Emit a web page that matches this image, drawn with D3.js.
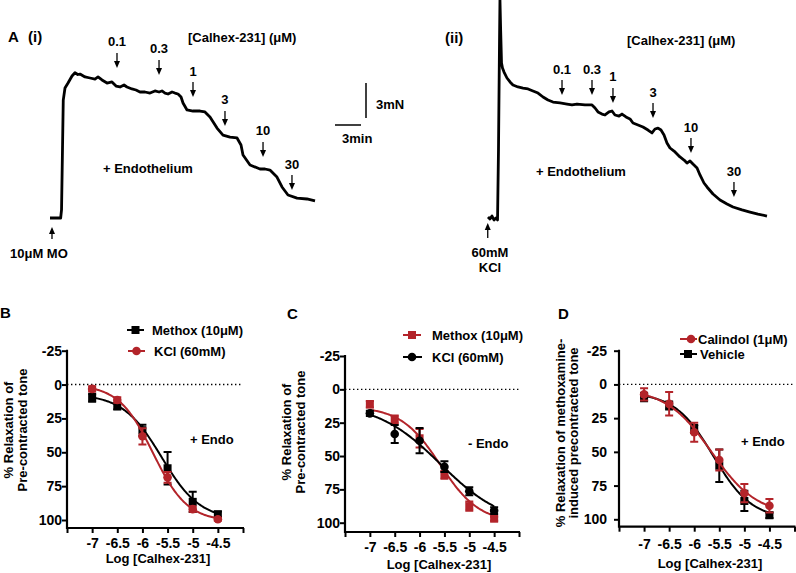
<!DOCTYPE html>
<html><head><meta charset="utf-8">
<script src="https://cdn.jsdelivr.net/npm/d3@7"></script>
<style>
body{margin:0;background:#fff}
svg text{font-family:"Liberation Sans",Arial,Helvetica,sans-serif;font-weight:bold;fill:#000;font-size:13px}
svg .tick text{font-size:14px}
</style>
</head><body>
<svg id="c" width="796" height="573"></svg>
<script>
// ---------------- DATA ----------------
// Panel A(i): isometric tension trace, [time (min), tension (mN)]
const traceI = [[0,0],[1.23,0],[1.33,0.69],[1.44,5.83],[1.53,10.1],[1.73,11.14],[2.08,11.57],[2.54,12.17],[2.88,12.45],[3.2,12.3],[3.46,12.34],[4.04,12.09],[4.62,12.0],[5.19,11.91],[5.54,12.09],[6.0,11.83],[6.58,11.57],[7.15,11.66],[7.62,11.31],[8.08,11.23],[8.54,11.4],[8.88,11.23],[9.46,11.06],[9.92,10.97],[10.38,10.8],[10.96,10.8],[11.54,10.71],[12.11,10.89],[12.58,10.8],[12.92,10.89],[13.27,10.71],[13.62,10.63],[14.08,10.8],[14.42,10.71],[14.77,10.63],[15.12,10.37],[15.35,9.86],[15.81,9.26],[16.5,9.17],[17.31,9.17],[17.88,9.09],[18.46,8.66],[19.27,7.71],[19.96,7.11],[20.77,6.94],[21.58,6.86],[22.04,6.26],[22.27,5.4],[23.08,4.54],[24.23,4.2],[24.81,4.2],[25.38,4.11],[26.19,3.51],[26.77,2.66],[27.46,1.97],[28.5,1.71],[29.65,1.63],[30.58,1.46]];
// Panel A(ii)
const traceII = [[0,0.09],[0.23,-0.09],[0.46,0.17],[0.69,-0.17],[0.92,0],[1.1,-0.17],[1.21,5.83],[1.33,15.26],[1.38,18.69],[1.46,16.11],[1.56,13.29],[1.67,12.86],[1.85,12.51],[2.19,12.0],[2.54,11.66],[2.88,11.4],[3.46,11.23],[4.04,11.14],[4.62,11.06],[5.19,10.89],[5.77,10.71],[6.35,10.37],[6.92,10.11],[7.5,9.94],[8.31,9.86],[9.12,9.77],[9.69,9.69],[10.27,9.77],[11.19,9.69],[12.0,9.69],[12.35,9.43],[12.69,9.09],[13.15,8.91],[13.5,8.83],[13.96,9.09],[14.31,9.17],[14.65,8.83],[15.12,8.74],[15.46,8.91],[15.92,8.66],[16.38,8.49],[16.73,8.14],[17.31,7.97],[17.88,7.8],[18.46,7.54],[18.92,7.29],[19.27,7.63],[19.62,7.71],[19.96,7.54],[20.31,7.11],[20.65,6.43],[21.0,6.0],[21.58,5.66],[22.15,5.23],[22.62,4.97],[22.96,4.71],[23.31,4.89],[23.65,4.63],[24.12,4.29],[24.46,3.69],[24.92,3.0],[25.27,2.66],[25.96,2.06],[26.77,1.54],[27.58,1.2],[28.27,0.94],[29.31,0.69],[30.23,0.51],[31.15,0.34],[32.19,0.17]];
const doseLabels = ["0.1","0.3","1","3","10","30"];
const traceIDoseTime = [7.73,12.58,16.5,20.19,24.58,27.92];
const traceIDoseTip = [12.86,12.26,10.37,7.89,5.23,2.4];
const traceIIDoseTime = [8.54,12.0,14.42,19.04,23.42,28.38];
const traceIIDoseTip = [10.54,10.54,9.86,8.57,5.57,1.8];

// Panels B-D: concentration-response (% relaxation, mean ± SEM)
const logConc = [-7,-6.5,-6,-5.5,-5,-4.5];
const xTicks = [-7.5,-7,-6.5,-6,-5.5,-5,-4.5,-4];
const yTicks = [-25,0,25,50,75,100];
const bMethoxMean = [9.7,15.9,33.7,61.8,86.6,95.8];
const bMethoxErr  = [3,2.5,4,12,7.5,2];
const bKclMean    = [3.2,11.4,38.2,68.5,92,99.5];
const bKclErr     = [2,2,6,4,2,1];
const cMethoxMean = [11.2,22.6,36.7,64,87.6,97];
const cMethoxErr  = [2.5,3,7,3,3.5,1.5];
const cKclMean    = [18,33.5,38.5,58,76.4,91];
const cKclErr     = [2,6.7,9.5,4,3,2.5];
const dCalindolMean = [7.4,14.4,35.5,56,80.6,90];
const dCalindolErr  = [4.6,8.7,7,7.8,6.8,5];
const dVehicleMean  = [9.4,15.6,33,60.3,86.4,97];
const dVehicleErr   = [3,3,3,12,7.5,2];
// sigmoidal fit parameters: [top, bottom, logEC50, Hill slope]
const bMethoxFit = [7,100,-5.62,1.13];
const bKclFit = [0,101,-5.79,1.27];
const cMethoxFit = [13,100,-5.585,1.1];
const cKclFit = [10,102,-5.58,0.68];
const dCalindolFit = [3,97,-5.656,0.956];
const dVehicleFit = [6,100,-5.62,1.13];

// ---------------- DRAW ----------------
const svg = d3.select("#c");
const RED = "#b3242a";

function txt(x, y, s, opts = {}) {
  const t = svg.append("text").attr("x", x).attr("y", y).text(s);
  if (opts.size) t.style("font-size", opts.size + "px");
  if (opts.anchor) t.attr("text-anchor", opts.anchor);
  return t;
}
function arrow(x, yTip, len, dir) { // dir 1 = down, -1 = up
  const g = svg.append("g");
  g.append("line").attr("x1", x).attr("x2", x)
    .attr("y1", yTip - dir * len).attr("y2", yTip - dir * 5)
    .attr("stroke", "#000").attr("stroke-width", 1.3);
  g.append("path").attr("d", `M${x - 3},${yTip - dir * 7}L${x + 3},${yTip - dir * 7}L${x},${yTip}Z`).attr("fill", "#000");
}

// Traces
const fScale = d3.scaleLinear().domain([0, 3]).range([218, 183]);
const tScaleI = d3.scaleLinear().domain([0, 30]).range([50, 310]);
const tScaleII = d3.scaleLinear().domain([0, 30]).range([488, 748]);

function drawTrace(data, ts, doseT, doseTip) {
  const line = d3.line().x(d => ts(d[0])).y(d => fScale(d[1]));
  svg.append("path").datum(data).attr("d", line).attr("fill", "none")
    .attr("stroke", "#000").attr("stroke-width", 2.8).attr("stroke-linejoin", "round");
  doseLabels.forEach((lab, i) => {
    const x = ts(doseT[i]), yTip = fScale(doseTip[i]);
    arrow(x, yTip, 15, 1);
    txt(x, yTip - 15 - 6.5, lab, {anchor: "middle"});
  });
}
drawTrace(traceI, tScaleI, traceIDoseTime, traceIDoseTip);
drawTrace(traceII, tScaleII, traceIIDoseTime, traceIIDoseTip);

// start arrows
arrow(tScaleI(0.23), fScale(-0.77), 12, -1);
arrow(tScaleII(-0.03), fScale(-0.43), 15, -1);

txt(8, 42, "A", {size: 15});
txt(28, 42, "(i)", {size: 15});
txt(445, 43, "(ii)", {size: 15});
txt(188, 42, "[Calhex-231] (\u03bcM)");
txt(627, 45, "[Calhex-231] (\u03bcM)");
txt(103, 172.6, "+ Endothelium");
txt(536, 175.6, "+ Endothelium");
txt(10, 258, "10\u03bcM MO");
txt(490, 257, "60mM", {anchor: "middle"});
txt(490, 272, "KCl", {anchor: "middle"});

// scale bar (3 mN, 3 min)
svg.append("line").attr("x1", 366).attr("x2", 366).attr("y1", 83)
  .attr("y2", 83 + (fScale(0) - fScale(3))).attr("stroke", "#000").attr("stroke-width", 1.5);
svg.append("line").attr("x1", 335).attr("x2", 335 + (tScaleI(3) - tScaleI(0)))
  .attr("y1", 125).attr("y2", 125).attr("stroke", "#000").attr("stroke-width", 1.5);
txt(376, 108.5, "3mN");
txt(342, 142.5, "3min");

// Concentration-response panels
function hill(p, x) { return p[0] + (p[1] - p[0]) / (1 + Math.pow(10, (p[2] - x) * p[3])); }

function drawPanel(cfg) {
  const x = d3.scaleLinear().domain([-7.5, -4]).range([cfg.x0, cfg.x1]);
  const y = d3.scaleLinear().domain([-25, 100]).range([cfg.yTop, cfg.y100]);
  const g = svg.append("g");
  g.append("line").attr("x1", x(-7.5)).attr("x2", x(-4)).attr("y1", y(0)).attr("y2", y(0))
    .attr("stroke", "#000").attr("stroke-width", 1.4).attr("stroke-dasharray", "1.4,2.6");
  const ya = g.append("g").attr("transform", `translate(${cfg.x0},0)`)
    .call(d3.axisLeft(y).tickValues(yTicks).tickSize(5).tickPadding(cfg.ypad).tickFormat(d => String(d)));
  ya.select(".domain").remove();
  ya.selectAll(".tick line").attr("stroke-width", 2);
  const xa = g.append("g").attr("transform", `translate(0,${cfg.yBot})`)
    .call(d3.axisBottom(x).tickValues(xTicks).tickSize(5).tickFormat(d => (d === -7.5 || d === -4) ? "" : String(d)));
  xa.select(".domain").remove();
  xa.selectAll(".tick line").attr("stroke-width", 2);
  xa.selectAll(".tick text").attr("dy", 0).attr("y", cfg.xTickBase - cfg.yBot);
  g.append("path").attr("d", `M${cfg.x0},${cfg.yTop - 1}V${cfg.yBot}H${cfg.x1 + 1}`)
    .attr("fill", "none").attr("stroke", "#000").attr("stroke-width", 2.2);

  cfg.series.forEach(s => {
    const sg = g.append("g");
    const xs = d3.range(-7, -4.5 + 1e-9, 0.02);
    sg.append("path").datum(xs).attr("d", d3.line().x(d => x(d)).y(d => y(hill(s.fit, d))))
      .attr("fill", "none").attr("stroke", s.color).attr("stroke-width", 2);
    logConc.forEach((c, i) => {
      const cx = x(c), m = s.mean[i], e = s.err[i];
      sg.append("path").attr("d",
        `M${cx},${y(m - e)}V${y(m + e)}M${cx - 4},${y(m - e)}H${cx + 4}M${cx - 4},${y(m + e)}H${cx + 4}`)
        .attr("stroke", s.color).attr("stroke-width", 2).attr("fill", "none");
      if (s.shape === "square")
        sg.append("rect").attr("x", cx - 4).attr("y", y(m) - 4).attr("width", 8).attr("height", 8).attr("fill", s.color);
      else
        sg.append("circle").attr("cx", cx).attr("cy", y(m)).attr("r", 4.3).attr("fill", s.color);
    });
  });
  // legend
  cfg.legend.forEach(l => {
    const s = cfg.series[l.idx];
    g.append("line").attr("x1", l.lx1).attr("x2", l.lx2).attr("y1", l.y).attr("y2", l.y)
      .attr("stroke", s.color).attr("stroke-width", 2);
    if (s.shape === "square")
      g.append("rect").attr("x", l.mx - 4).attr("y", l.y - 4).attr("width", 8).attr("height", 8).attr("fill", s.color);
    else
      g.append("circle").attr("cx", l.mx).attr("cy", l.y).attr("r", 4.3).attr("fill", s.color);
    txt(l.tx, l.y + 4.6, s.name);
  });
  txt(cfg.letter[1], cfg.letter[2], cfg.letter[0], {size: 15});
  txt(cfg.endo[1], cfg.endo[2], cfg.endo[0]);
  txt(cfg.xlab[0], cfg.xlab[1], "Log [Calhex-231]", {anchor: "middle"});
  cfg.ylab.forEach(l => {
    svg.append("text").attr("transform", `translate(${l[1]},${cfg.ylabCenter}) rotate(-90)`)
      .attr("text-anchor", "middle").text(l[0]);
  });
}

drawPanel({
  x0: 67, x1: 243, yTop: 350.7, y100: 520, yBot: 528, ypad: 0, xTickBase: 548,
  series: [
    {name: "Methox (10\u03bcM)", color: "#000", shape: "square", mean: bMethoxMean, err: bMethoxErr, fit: bMethoxFit},
    {name: "KCl (60mM)", color: RED, shape: "circle", mean: bKclMean, err: bKclErr, fit: bKclFit}
  ],
  legend: [{idx: 0, y: 330, lx1: 127, lx2: 144, mx: 135.5, tx: 152}, {idx: 1, y: 351, lx1: 128, lx2: 145, mx: 136.5, tx: 154}],
  letter: ["B", 0, 318], endo: ["+ Endo", 190, 444], xlab: [158, 563],
  ylab: [["% Relaxation of", 13], ["Pre-contracted tone", 26.5]], ylabCenter: 430
});
drawPanel({
  x0: 345, x1: 519, yTop: 356, y100: 522.7, yBot: 532, ypad: 0, xTickBase: 552,
  series: [
    {name: "Methox (10\u03bcM)", color: RED, shape: "square", mean: cMethoxMean, err: cMethoxErr, fit: cMethoxFit},
    {name: "KCl (60mM)", color: "#000", shape: "circle", mean: cKclMean, err: cKclErr, fit: cKclFit}
  ],
  legend: [{idx: 0, y: 335, lx1: 403, lx2: 421, mx: 412, tx: 432}, {idx: 1, y: 357, lx1: 403, lx2: 422, mx: 412, tx: 432}],
  letter: ["C", 287, 319], endo: ["- Endo", 468, 448], xlab: [439, 569],
  ylab: [["% Relaxation of", 291], ["Pre-contracted tone", 304.5]], ylabCenter: 432
});
drawPanel({
  x0: 619, x1: 794.5, yTop: 350.7, y100: 519.3, yBot: 526.7, ypad: 7, xTickBase: 549,
  series: [
    {name: "Vehicle", color: "#000", shape: "square", mean: dVehicleMean, err: dVehicleErr, fit: dVehicleFit},
    {name: "Calindol (1\u03bcM)", color: RED, shape: "circle", mean: dCalindolMean, err: dCalindolErr, fit: dCalindolFit}
  ],
  legend: [{idx: 1, y: 339, lx1: 680, lx2: 697, mx: 691, tx: 698}, {idx: 0, y: 354, lx1: 680, lx2: 697, mx: 688, tx: 700}],
  letter: ["D", 558, 319], endo: ["+ Endo", 741, 445.5], xlab: [710, 568],
  ylab: [["% Relaxation of methoxamine-", 565], ["induced precontracted tone", 578]], ylabCenter: 433
});
</script>
</body></html>
